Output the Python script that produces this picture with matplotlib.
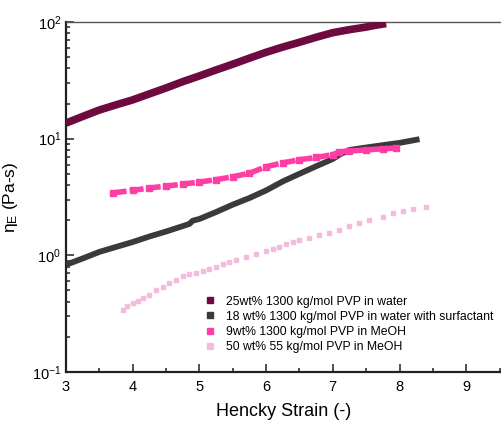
import matplotlib
matplotlib.use("Agg")
import matplotlib.pyplot as plt
from matplotlib.ticker import LogLocator, MultipleLocator, NullFormatter

plt.rcParams['font.family'] = ['Liberation Sans', 'DejaVu Sans']
plt.rcParams['mathtext.fontset'] = 'custom'
plt.rcParams['mathtext.rm'] = 'Liberation Sans'
plt.rcParams['mathtext.it'] = 'Liberation Sans'

labels = ["25wt% 1300 kg/mol PVP in water",
          "18 wt% 1300 kg/mol PVP in water with surfactant",
          "9wt% 1300 kg/mol PVP in MeOH",
          "50 wt% 55 kg/mol PVP in MeOH"]
colors = ["#6e0a40", "#3a3a3a", "#ff3ea5", "#f3bcdc"]

x1 = [3.0, 3.25, 3.5, 3.75, 4.0, 4.25, 4.5, 4.75, 5.0, 5.25, 5.5, 5.75, 6.0,
      6.25, 6.5, 6.75, 7.0, 7.25, 7.5, 7.65, 7.8]
y1 = [13.6, 15.5, 17.6, 19.5, 21.5, 24.2, 27.2, 30.8, 34.5, 38.8, 43.5, 49,
      55, 61, 67, 74, 81, 86, 90.5, 94, 97]

x2 = [3.0, 3.25, 3.5, 3.75, 4.0, 4.25, 4.5, 4.75, 4.85, 4.9, 5.0, 5.25, 5.5,
      5.75, 6.0, 6.25, 6.5, 6.75, 7.0, 7.1, 7.25, 7.5, 7.75, 8.0, 8.3]
y2 = [0.83, 0.94, 1.07, 1.18, 1.3, 1.45, 1.6, 1.78, 1.86, 1.98, 2.05, 2.35,
      2.72, 3.1, 3.6, 4.3, 5.0, 5.8, 6.7, 7.3, 8.0, 8.4, 8.8, 9.2, 9.9]

x3 = [3.7, 4.0, 4.25, 4.5, 4.75, 5.0, 5.25, 5.5, 5.75, 6.0, 6.25, 6.5, 6.75,
      7.0, 7.1, 7.25, 7.5, 7.75, 7.95]
y3 = [3.43, 3.6, 3.78, 3.92, 4.08, 4.25, 4.45, 4.72, 5.05, 5.75, 6.2, 6.6,
      6.9, 7.3, 7.7, 7.85, 8.0, 8.2, 8.3]

x4 = [3.85, 3.92, 4.0, 4.08, 4.16, 4.25, 4.35, 4.45, 4.55, 4.65, 4.75, 4.85,
      4.95, 5.05, 5.15, 5.25, 5.35, 5.45, 5.55, 5.7, 5.85, 6.0, 6.1, 6.2, 6.3,
      6.4, 6.5, 6.65, 6.8, 6.95, 7.1, 7.25, 7.4, 7.55, 7.75, 7.9, 8.05, 8.2,
      8.4]
y4 = [0.34, 0.37, 0.39, 0.41, 0.435, 0.46, 0.5, 0.54, 0.58, 0.62, 0.66, 0.69,
      0.71, 0.74, 0.77, 0.8, 0.84, 0.88, 0.92, 0.97, 1.03, 1.1, 1.14, 1.19,
      1.24, 1.3, 1.36, 1.42, 1.5, 1.56, 1.66, 1.78, 1.9, 2.0, 2.15, 2.3, 2.4,
      2.5, 2.6]

fig = plt.figure(figsize=(5.01, 4.23), dpi=100)
ax = fig.add_axes([66/501, 1-372/423, 1-66/501, 350/423])

ax.plot(x1, y1, color=colors[0], lw=5.5, solid_capstyle='butt', zorder=3)
ax.plot(x2, y2, color=colors[1], lw=4.2, solid_capstyle='butt', zorder=3)
ax.plot(x3, y3, color=colors[2], lw=0, marker='s', ms=4.2, zorder=3)
ax.plot(x3, y3, color=colors[2], lw=4, dashes=(2.5, 0.6), zorder=3)
ax.plot(x4, y4, color=colors[3], lw=0, marker='s', ms=3.3, zorder=3)

for c, lab in zip(colors, labels):
    ax.plot([], [], ls='none', marker='s', ms=4, color=c, label=lab)

ax.set_yscale('log')
ax.set_xlim(3, 3 + 435/66.7)
ax.set_ylim(0.1, 100)

ax.xaxis.set_major_locator(MultipleLocator(1))
ax.xaxis.set_minor_locator(MultipleLocator(0.5))
ax.yaxis.set_major_locator(LogLocator(base=10, numticks=10))
ax.yaxis.set_minor_locator(LogLocator(base=10, subs=range(2, 10), numticks=10))
ax.yaxis.set_minor_formatter(NullFormatter())

ax.tick_params(which='both', direction='in', top=False, right=False,
               labelsize=10.5, width=1.2, color='#333333')
ax.tick_params(which='major', length=6)
ax.tick_params(which='minor', length=3)
ax.tick_params(axis='x', pad=6)

for s in ['left', 'bottom']:
    ax.spines[s].set_linewidth(1.6)
    ax.spines[s].set_color('#222222')
ax.spines['top'].set_linewidth(1.0)
ax.spines['top'].set_color('#555555')
ax.spines['right'].set_visible(False)

ax.set_xlabel('Hencky Strain (-)', fontsize=13, labelpad=6)
ax.set_ylabel(r'$\eta_{\rm E}$ (Pa-s)', fontsize=12.5, labelpad=8)

ax.legend(loc='upper left', bbox_to_anchor=(0.305, 0.232), frameon=False,
          fontsize=8.8, handlelength=1.0, handletextpad=0.8,
          labelspacing=0.25, borderaxespad=0)

fig.savefig('out.png', dpi=100)
